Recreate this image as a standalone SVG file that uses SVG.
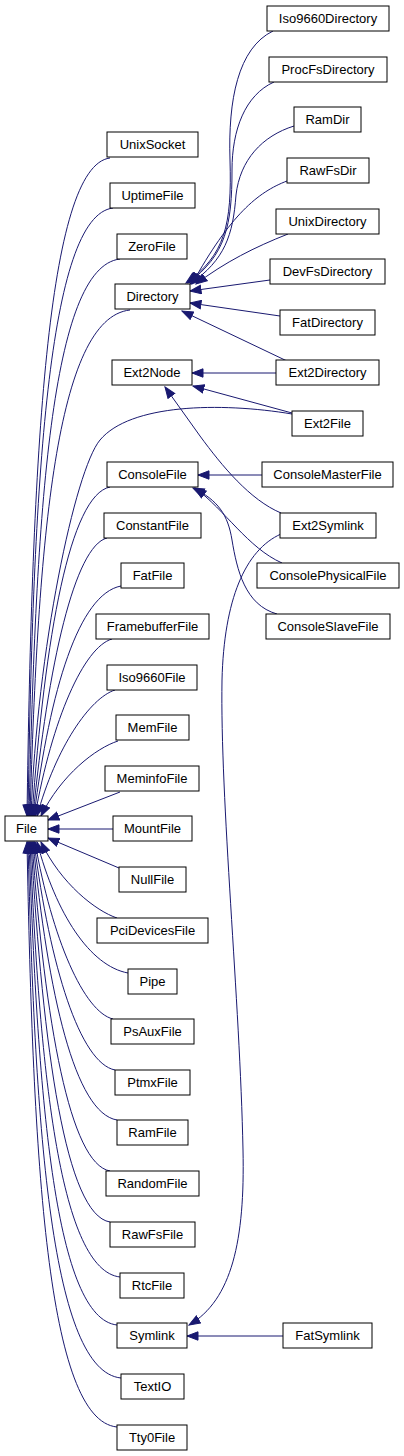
<svg xmlns="http://www.w3.org/2000/svg" width="404" height="1456" viewBox="0 0 404 1456">
<style>
.n rect{fill:#fff;stroke:#000;stroke-width:1}
.n text{font-family:"Liberation Sans",Arial,sans-serif;font-size:13px;text-anchor:middle;fill:#000}
.e path{fill:none;stroke:#191970;stroke-width:1;marker-end:url(#a)}
</style>
<defs>
<marker id="a" markerUnits="userSpaceOnUse" markerWidth="13" markerHeight="10" refX="11.5" refY="5" orient="auto">
<path d="M0.5,0.8 L11.5,5 L0.5,9.2 z" fill="#191970" stroke="#191970" stroke-width="1"/>
</marker>
</defs>
<rect width="404" height="1456" fill="#fff"/>
<g id="connectors" class="e">
<!-- to Directory -->
<path d="M273,31 C238,48 228,100 230,160 C232,225 225,255 186,283"/>
<path d="M274,82 C245,95 232,130 232,170 C232,225 226,255 188,283"/>
<path d="M294,126 C262,136 240,160 236,195 C233,235 225,260 190,284"/>
<path d="M287,181 C258,192 230,215 192,284"/>
<path d="M288,234 C255,247 225,262 196,284"/>
<path d="M270,280 L190,291"/>
<path d="M280,316 L190,303"/>
<path d="M287,361 L182,311"/>
<!-- to Ext2Node -->
<path d="M276,373 L192,373"/>
<path d="M292,413 L193,386"/>
<path d="M281,513 C250,500 222,466 200,436 L165,387"/>
<!-- to ConsoleFile -->
<path d="M262,475 L198,475"/>
<path d="M282,563 C248,548 225,510 195,488"/>
<path d="M277,614 C245,605 237,570 232,540 C228,515 218,500 193,488"/>
<!-- to Symlink -->
<path d="M281,534 C245,550 224,600 222,680 C220,800 240,1000 243,1150 C245,1240 232,1300 189,1325"/>
<path d="M283,1336 L187,1336"/>
<!-- to File (above) -->
<path d="M110,158 C47,166 32,454 27,816"/>
<path d="M113,208 C48,216 33,482 28,816"/>
<path d="M120,259 C51,267 36,510 29,816"/>
<path d="M130,310 C56,318 38,538 30,816"/>
<path d="M292,414 C220,402 130,404 100,440 C75,470 37,650 31,816"/>
<path d="M110,487 C70,495 45,635 32,816"/>
<path d="M107,538 C75,546 48,663 33,816"/>
<path d="M121,586 C79,594 50,689 34,816"/>
<path d="M112,639 C84,647 52,719 35,816"/>
<path d="M115,690 C90,698 56,747 37,816"/>
<path d="M118,741 C96,748 61,775 41,816"/>
<path d="M120,792 L48,820"/>
<path d="M113,829 L48,829"/>
<path d="M119,868 L48,838"/>
<!-- to File (below) -->
<path d="M117,918 C96,911 61,884 41,842"/>
<path d="M128,973 C90,966 56,914 37,842"/>
<path d="M113,1019 C84,1012 52,939 35,842"/>
<path d="M115,1070 C80,1063 50,967 34,842"/>
<path d="M117,1120 C75,1113 48,995 33,842"/>
<path d="M110,1171 C70,1164 45,1023 32,842"/>
<path d="M110,1222 C66,1215 43,1051 31,842"/>
<path d="M120,1277 C61,1270 40,1081 30,842"/>
<path d="M117,1325 C56,1318 38,1108 29,842"/>
<path d="M121,1378 C52,1371 35,1137 28,842"/>
<path d="M117,1427 C47,1420 33,1164 27,842"/>
</g>
<g id="Iso9660Directory" class="n"><rect x="267" y="6" width="122" height="25"/><text x="328" y="23">Iso9660Directory</text></g>
<g id="ProcFsDirectory" class="n"><rect x="269" y="57" width="118" height="25"/><text x="328" y="74">ProcFsDirectory</text></g>
<g id="RamDir" class="n"><rect x="294" y="107" width="67" height="25"/><text x="327.5" y="124">RamDir</text></g>
<g id="RawFsDir" class="n"><rect x="287" y="158" width="82" height="25"/><text x="328" y="175">RawFsDir</text></g>
<g id="UnixDirectory" class="n"><rect x="276" y="209" width="103" height="25"/><text x="327.5" y="226">UnixDirectory</text></g>
<g id="DevFsDirectory" class="n"><rect x="270" y="259" width="115" height="25"/><text x="327.5" y="276">DevFsDirectory</text></g>
<g id="FatDirectory" class="n"><rect x="280" y="310" width="95" height="25"/><text x="327.5" y="327">FatDirectory</text></g>
<g id="Ext2Directory" class="n"><rect x="276" y="360" width="103" height="25"/><text x="327.5" y="377">Ext2Directory</text></g>
<g id="Ext2File" class="n"><rect x="292" y="411" width="71" height="25"/><text x="327.5" y="428">Ext2File</text></g>
<g id="ConsoleMasterFile" class="n"><rect x="262" y="462" width="131" height="25"/><text x="327.5" y="479">ConsoleMasterFile</text></g>
<g id="Ext2Symlink" class="n"><rect x="280" y="513" width="96" height="25"/><text x="328" y="530">Ext2Symlink</text></g>
<g id="ConsolePhysicalFile" class="n"><rect x="257" y="563" width="142" height="25"/><text x="328" y="580">ConsolePhysicalFile</text></g>
<g id="ConsoleSlaveFile" class="n"><rect x="266" y="614" width="124" height="25"/><text x="328" y="631">ConsoleSlaveFile</text></g>
<g id="FatSymlink" class="n"><rect x="283" y="1323" width="89" height="25"/><text x="327.5" y="1340">FatSymlink</text></g>
<g id="UnixSocket" class="n"><rect x="107" y="132" width="91" height="25"/><text x="152.5" y="149">UnixSocket</text></g>
<g id="UptimeFile" class="n"><rect x="110" y="183" width="85" height="25"/><text x="152.5" y="200">UptimeFile</text></g>
<g id="ZeroFile" class="n"><rect x="117" y="234" width="70" height="25"/><text x="152" y="251">ZeroFile</text></g>
<g id="Directory" class="n"><rect x="115" y="284" width="75" height="25"/><text x="152.5" y="301">Directory</text></g>
<g id="Ext2Node" class="n"><rect x="112" y="360" width="80" height="25"/><text x="152" y="377">Ext2Node</text></g>
<g id="ConsoleFile" class="n"><rect x="107" y="462" width="91" height="25"/><text x="152.5" y="479">ConsoleFile</text></g>
<g id="ConstantFile" class="n"><rect x="104" y="513" width="97" height="25"/><text x="152.5" y="530">ConstantFile</text></g>
<g id="FatFile" class="n"><rect x="121" y="563" width="63" height="25"/><text x="152.5" y="580">FatFile</text></g>
<g id="FramebufferFile" class="n"><rect x="96" y="614" width="113" height="25"/><text x="152.5" y="631">FramebufferFile</text></g>
<g id="Iso9660File" class="n"><rect x="107" y="665" width="90" height="25"/><text x="152" y="682">Iso9660File</text></g>
<g id="MemFile" class="n"><rect x="116" y="715" width="73" height="25"/><text x="152.5" y="732">MemFile</text></g>
<g id="MeminfoFile" class="n"><rect x="105" y="766" width="94" height="25"/><text x="152" y="783">MeminfoFile</text></g>
<g id="MountFile" class="n"><rect x="113" y="816" width="79" height="25"/><text x="152.5" y="833">MountFile</text></g>
<g id="NullFile" class="n"><rect x="119" y="867" width="67" height="25"/><text x="152.5" y="884">NullFile</text></g>
<g id="PciDevicesFile" class="n"><rect x="97" y="918" width="111" height="25"/><text x="152.5" y="935">PciDevicesFile</text></g>
<g id="Pipe" class="n"><rect x="128" y="969" width="49" height="25"/><text x="152.5" y="986">Pipe</text></g>
<g id="PsAuxFile" class="n"><rect x="111" y="1019" width="83" height="25"/><text x="152.5" y="1036">PsAuxFile</text></g>
<g id="PtmxFile" class="n"><rect x="115" y="1070" width="75" height="25"/><text x="152.5" y="1087">PtmxFile</text></g>
<g id="RamFile" class="n"><rect x="117" y="1120" width="71" height="25"/><text x="152.5" y="1137">RamFile</text></g>
<g id="RandomFile" class="n"><rect x="106" y="1171" width="93" height="25"/><text x="152.5" y="1188">RandomFile</text></g>
<g id="RawFsFile" class="n"><rect x="110" y="1222" width="85" height="25"/><text x="152.5" y="1239">RawFsFile</text></g>
<g id="RtcFile" class="n"><rect x="120" y="1273" width="64" height="25"/><text x="152" y="1290">RtcFile</text></g>
<g id="Symlink" class="n"><rect x="117" y="1323" width="70" height="25"/><text x="152" y="1340">Symlink</text></g>
<g id="TextIO" class="n"><rect x="121" y="1374" width="63" height="25"/><text x="152.5" y="1391">TextIO</text></g>
<g id="Tty0File" class="n"><rect x="117" y="1425" width="70" height="25"/><text x="152" y="1442">Tty0File</text></g>
<g id="File" class="n"><rect x="5" y="816" width="43" height="25"/><text x="26.5" y="833">File</text></g>
</svg>
